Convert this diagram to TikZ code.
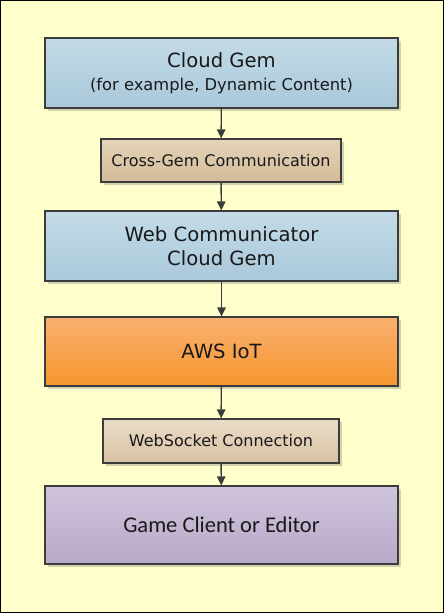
\documentclass[tikz,border=0pt]{standalone}
\usepackage{fontspec}
\setmainfont{DejaVu Sans}
\newfontfamily\clientfont{Carlito}
\usetikzlibrary{arrows.meta,shadows}

\definecolor{paper}{HTML}{FFFFCC}
\definecolor{edge}{HTML}{3C3C3C}
\definecolor{blueTop}{HTML}{C3DBE6}
\definecolor{blueBot}{HTML}{A9C8DB}
\definecolor{tanTop}{HTML}{E4D4B9}
\definecolor{tanBot}{HTML}{D4BB98}
\definecolor{orangeTop}{HTML}{F9B06F}
\definecolor{orangeBot}{HTML}{F7962F}
\definecolor{lilacTop}{HTML}{D0C4DC}
\definecolor{lilacBot}{HTML}{B8A9C9}

\begin{document}
\begin{tikzpicture}[x=1pt,y=-1pt,
    box/.style={draw=edge,line width=1.3pt,align=center,text=black!90,
        minimum width=353pt,minimum height=70pt,inner sep=0pt,
        drop shadow={opacity=0.35,shadow xshift=3pt,shadow yshift=-3pt}},
    bigbox/.style={box,font=\fontsize{19.6}{24}\selectfont},
    smallbox/.style={box,minimum height=43pt,font=\fontsize{16}{19}\selectfont},
    link/.style={draw=edge,line width=1.4pt,-{Triangle[length=9pt,width=8.5pt]}}]
    \useasboundingbox (0,0) rectangle (444,613);
    \draw[fill=paper,line width=1.2pt] (0.6,0.6) rectangle (443.4,612.4);

    \node[bigbox,top color=blueTop,bottom color=blueBot] (gem) at (221.5,73)
        {Cloud Gem\\[-1pt]{\fontsize{16.3}{20}\selectfont(for example, Dynamic Content)}};
    \node[smallbox,minimum width=240pt,top color=tanTop,bottom color=tanBot] (cross) at (221,160.5)
        {Cross-Gem Communication};
    \node[bigbox,top color=blueTop,bottom color=blueBot] (webcom) at (221.5,246)
        {Web Communicator\\Cloud Gem};
    \node[bigbox,minimum height=69pt,top color=orangeTop,bottom color=orangeBot] (iot) at (221.5,351.5)
        {AWS IoT};
    \node[smallbox,minimum width=236pt,minimum height=44pt,top color=tanTop!80!white,bottom color=tanBot!90!white] (socket) at (221,441)
        {WebSocket Connection};
    \node[bigbox,minimum height=78pt,top color=lilacTop,bottom color=lilacBot,
        font=\clientfont\fontsize{22.5}{28}\selectfont] (client) at (221.5,525)
        {Game Client or Editor};

    \draw[link] (gem) -- (cross);
    \draw[link] (cross) -- (webcom);
    \draw[link] (webcom) -- (iot);
    \draw[link] (iot) -- (socket);
    \draw[link] (socket) -- (client);
\end{tikzpicture}
\end{document}
